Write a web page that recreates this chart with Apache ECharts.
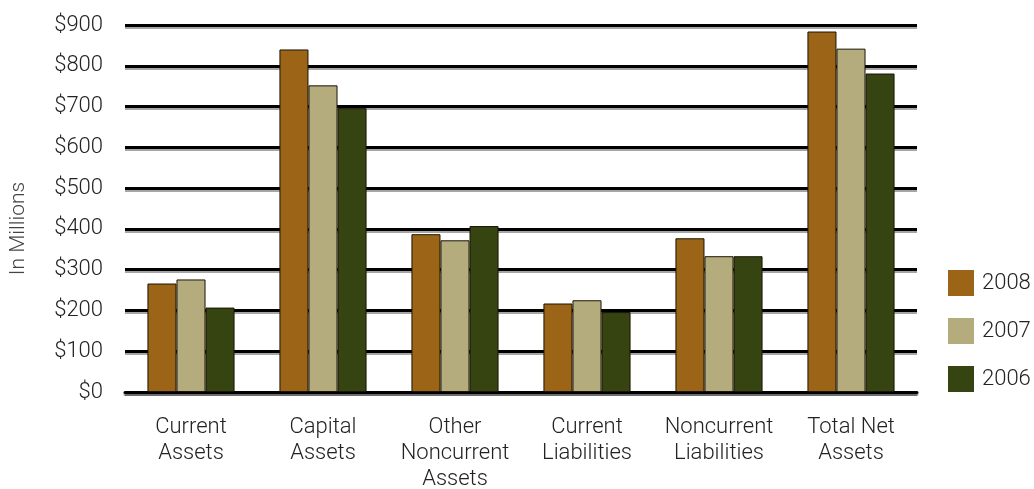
<!DOCTYPE html>
<html><head><meta charset="utf-8">
<script src="https://cdn.jsdelivr.net/npm/echarts@6/dist/echarts.min.js"></script>
<style>html,body{margin:0;padding:0;background:#fff}#c{width:1034px;height:489px}</style>
</head><body><div id="c"></div>
<script>
const categories = ['Current\nAssets','Capital\nAssets','Other\nNoncurrent\nAssets','Current\nLiabilities','Noncurrent\nLiabilities','Total Net\nAssets'];
const seriesNames = ['2008','2007','2006'];
const values2008 = [266, 840, 387, 217, 377, 884];
const values2007 = [276, 752, 372, 225, 333, 842];
const values2006 = [207, 696, 407, 196, 333, 781];
const colors = ['#9C6416','#B5AC7E','#354410'];
const FONT = 'Roboto';
const FW = 300;
const chart = echarts.init(document.getElementById('c'));
const data = [values2008, values2007, values2006];
chart.setOption({
  animation:false,
  textStyle:{fontFamily:FONT,fontWeight:FW},
  grid:{left:125,right:117,top:25,bottom:97,containLabel:false,outerBoundsMode:'none'},
  legend:{orient:'vertical',left:948,top:270,padding:0,itemWidth:26,itemHeight:26,itemGap:22,
    icon:'rect',itemStyle:{borderWidth:0},
    textStyle:{fontFamily:FONT,fontWeight:FW,fontSize:22,color:'#222',padding:[0,0,0,3]},
    data:seriesNames},
  xAxis:{type:'category',data:categories,
    axisLine:{lineStyle:{color:'#000',width:3,shadowColor:'rgba(0,0,0,0.35)',shadowOffsetY:2}},
    axisTick:{show:false},
    axisLabel:{fontFamily:FONT,fontWeight:FW,fontSize:22,color:'#222',lineHeight:26,margin:22,interval:0}},
  yAxis:{type:'value',min:0,max:900,interval:100,
    name:'In Millions',nameLocation:'middle',nameGap:96,nameRotate:90,
    nameTextStyle:{fontFamily:FONT,fontWeight:FW,fontSize:21,color:'#444',padding:[0,40,0,0]},
    axisLine:{show:false},axisTick:{show:false},
    axisLabel:{fontFamily:FONT,fontWeight:FW,fontSize:22,color:'#222',margin:22,formatter:v=>'$'+v},
    splitLine:{lineStyle:{color:'#000',width:3,shadowColor:'rgba(0,0,0,0.35)',shadowOffsetY:2}}},
  series: seriesNames.map((n,i)=>({
    name:n,type:'bar',data:data[i],barGap:'0%',barCategoryGap:'34%',
    itemStyle:{color:colors[i],borderColor:'#1a1505',borderWidth:1}
  }))
});
</script></body></html>
